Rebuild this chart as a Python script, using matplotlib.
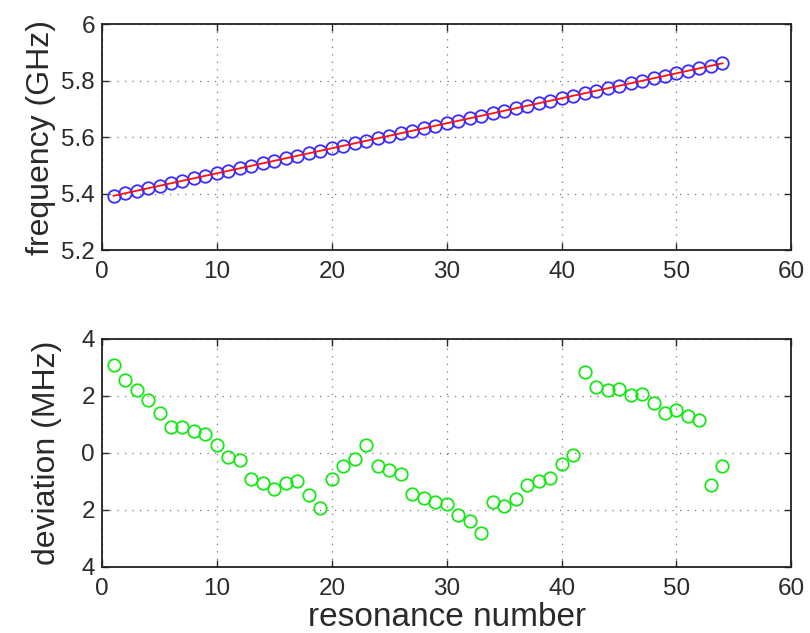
import numpy as np
import matplotlib
matplotlib.use("Agg")
import matplotlib.pyplot as plt

plt.rcParams['font.family'] = ['Liberation Sans', 'DejaVu Sans']

n = np.arange(1, 55)

freq_ghz = [5.392, 5.401, 5.410, 5.419, 5.427, 5.436, 5.445, 5.454, 5.463, 5.472,
            5.481, 5.489, 5.498, 5.507, 5.516, 5.525, 5.534, 5.543, 5.551, 5.560,
            5.569, 5.578, 5.587, 5.596, 5.604, 5.613, 5.622, 5.631, 5.640, 5.649,
            5.658, 5.666, 5.675, 5.684, 5.693, 5.702, 5.711, 5.720, 5.728, 5.737,
            5.746, 5.755, 5.764, 5.773, 5.781, 5.790, 5.799, 5.808, 5.817, 5.826,
            5.835, 5.843, 5.852, 5.861]

dev_mhz = [3.08, 2.55, 2.20, 1.85, 1.38, 0.91, 0.91, 0.75, 0.67, 0.28,
           -0.15, -0.27, -0.92, -1.07, -1.27, -1.06, -1.01, -1.50, -1.95, -0.94,
           -0.48, -0.21, 0.26, -0.47, -0.62, -0.74, -1.45, -1.60, -1.74, -1.80,
           -2.18, -2.39, -2.82, -1.74, -1.86, -1.62, -1.15, -1.00, -0.89, -0.41,
           -0.09, 2.85, 2.32, 2.22, 2.24, 2.02, 2.08, 1.75, 1.38, 1.49,
           1.28, 1.14, -1.13, -0.47]

freq_ticks = [5.2, 5.4, 5.6, 5.8, 6.0]
freq_ticklabels = ['5.2', '5.4', '5.6', '5.8', '6']
dev_ticks = [-4, -2, 0, 2, 4]
dev_ticklabels = ['4', '2', '0', '2', '4']
x_ticks = [0, 10, 20, 30, 40, 50, 60]

txt = '#2a2a2a'
fig = plt.figure(figsize=(8.1, 6.33), dpi=100)
ax1 = fig.add_axes([0.126, 0.605, 0.851, 0.357])
ax2 = fig.add_axes([0.126, 0.105, 0.851, 0.3595])

# linear fit through the measured resonances
coef = np.polyfit(n, freq_ghz, 1)
ax1.plot(n, freq_ghz, 'o', mfc='none', mec='#3a2cff', ms=9, mew=1.3, zorder=3)
ax1.plot(n, np.polyval(coef, n), '-', color='#ff1010', lw=1.3, zorder=4)
ax1.set_ylim(5.2, 6.0)
ax1.set_yticks(freq_ticks)
ax1.set_yticklabels(freq_ticklabels)
ax1.set_ylabel('frequency (GHz)', fontsize=23, color=txt, labelpad=4)

ax2.plot(n, dev_mhz, 'o', mfc='none', mec='#18e818', ms=9, mew=1.3)
ax2.set_ylim(-4, 4)
ax2.set_yticks(dev_ticks)
ax2.set_yticklabels(dev_ticklabels)
ax2.set_ylabel('deviation (MHz)', fontsize=23, color=txt, labelpad=14)
ax2.set_xlabel('resonance number', fontsize=24, color=txt, labelpad=2)

for ax in (ax1, ax2):
    ax.set_xlim(0, 60)
    ax.set_xticks(x_ticks)
    ax.grid(True, linestyle=(0, (1, 5)), color='#777777', lw=0.9)
    ax.tick_params(direction='in', length=5, width=1, labelsize=17.5,
                   colors=txt, top=True, right=True, pad=5)
    ax.tick_params(axis='x', pad=8)
    for sp in ax.spines.values():
        sp.set_linewidth(1.3)
        sp.set_color('#222222')

fig.savefig('out.png', dpi=100, facecolor='white')
